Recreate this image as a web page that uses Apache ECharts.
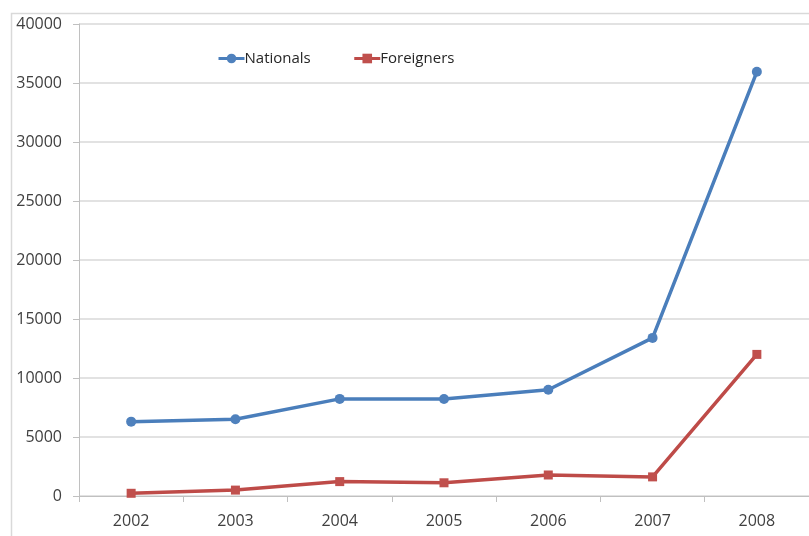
<!DOCTYPE html>
<html>
<head>
<meta charset="utf-8">
<script src="https://cdn.jsdelivr.net/npm/echarts@6/dist/echarts.min.js"></script>
<style>
  html, body { margin: 0; padding: 0; background: #ffffff; }
  #chart { width: 809px; height: 536px; }
</style>
</head>
<body>
<div id="chart"></div>
<script>
// Yearly counts, nationals vs foreigners
const years = ['2002', '2003', '2004', '2005', '2006', '2007', '2008'];
const nationals = [6300, 6500, 8230, 8220, 9000, 13400, 35950];
const foreigners = [230, 500, 1220, 1120, 1780, 1620, 12000];
const yTicks = { min: 0, max: 40000, step: 5000 };

const FONT = '"Open Sans", "Liberation Sans", sans-serif';
const chart = echarts.init(document.getElementById('chart'));

chart.setOption({
  animation: false,
  backgroundColor: '#ffffff',
  graphic: [{
    type: 'rect',
    shape: { x: 11.5, y: 13.5, width: 900, height: 600 },
    style: { fill: 'none', stroke: '#d9d9d9', lineWidth: 1.5 },
    silent: true
  }],
  grid: { left: 79, top: 24, bottom: 40, width: 735 },
  legend: {
    left: 212,
    top: 46,
    itemWidth: 26,
    itemHeight: 12,
    itemGap: 42,
    lineStyle: { width: 3 },
    textStyle: { fontFamily: FONT, fontSize: 15, color: '#262626', padding: [0, 0, 0, -5] },
    data: ['Nationals', 'Foreigners']
  },
  xAxis: {
    type: 'category',
    data: years,
    boundaryGap: true,
    axisLine: { lineStyle: { color: '#c0c0c0', width: 1 } },
    axisTick: { show: true, length: 6, alignWithLabel: false, lineStyle: { color: '#c0c0c0' } },
    axisLabel: { fontFamily: FONT, fontSize: 16, color: '#404040', margin: 17 },
    splitLine: { show: false }
  },
  yAxis: {
    type: 'value',
    min: yTicks.min,
    max: yTicks.max,
    interval: yTicks.step,
    axisLine: { show: true, lineStyle: { color: '#c0c0c0', width: 1 } },
    axisTick: { show: true, length: 6, lineStyle: { color: '#c0c0c0' } },
    axisLabel: {
      fontFamily: FONT, fontSize: 16, color: '#404040', margin: 17,
      formatter: (v) => String(v)
    },
    splitLine: { show: true, lineStyle: { color: '#d9d9d9', width: 1.5 } }
  },
  series: [
    {
      name: 'Nationals',
      type: 'line',
      data: nationals,
      symbol: 'circle',
      symbolSize: 10,
      lineStyle: { color: '#4a7ebb', width: 3.5 },
      itemStyle: { color: '#4f81bd', borderWidth: 0 }
    },
    {
      name: 'Foreigners',
      type: 'line',
      data: foreigners,
      symbol: 'rect',
      symbolSize: 9,
      lineStyle: { color: '#be4b48', width: 3.5 },
      itemStyle: { color: '#c0504d', borderWidth: 0 }
    }
  ]
});
</script>
</body>
</html>
